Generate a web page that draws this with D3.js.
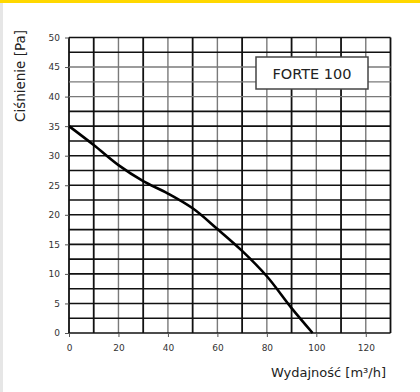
<!DOCTYPE html>
<html><head><meta charset="utf-8">
<script src="https://cdn.jsdelivr.net/npm/d3@7"></script>
<style>body{margin:0;background:#fff}svg{display:block}</style>
</head><body>
<script>
const flow = [0, 10, 20, 30, 40, 50, 60, 70, 80, 90, 98.5];
const pressure = [35, 31.8, 28.4, 25.7, 23.6, 21.1, 17.6, 13.9, 9.6, 4.2, 0];
const xTicks = [0, 20, 40, 60, 80, 100, 120];
const yTicks = [0, 5, 10, 15, 20, 25, 30, 35, 40, 45, 50];
const xGrid = d3.range(0, 131, 10);
const yGrid = d3.range(0, 50.1, 2.5);
const labelText = "FORTE 100";
const xTitle = "Wydajność [m³/h]";
const yTitle = "Ciśnienie [Pa]";

const W = 420, H = 392;
const svg = d3.select("body").append("svg").attr("width", W).attr("height", H);
svg.append("rect").attr("width", W).attr("height", H).attr("fill", "#fff");
svg.append("rect").attr("width", W).attr("height", 3).attr("fill", "#ffd800");
svg.append("rect").attr("y", 3).attr("width", 3).attr("height", H - 3).attr("fill", "#e6e6e6");

const x = d3.scaleLinear().domain([0, 130]).range([69, 390.5]);
const y = d3.scaleLinear().domain([0, 50]).range([333, 37.5]);

const g = svg.append("g");
g.selectAll(".vg").data(xGrid).join("line")
  .attr("x1", d => x(d)).attr("x2", d => x(d)).attr("y1", y(0)).attr("y2", y(50))
  .attr("stroke", d => (d % 20 === 0 && d !== 0) ? "#7a7a7a" : "#111")
  .attr("stroke-width", d => (d % 20 === 0 && d !== 0) ? 1.4 : 1.8);
g.selectAll(".hg").data(yGrid).join("line")
  .attr("x1", x(0)).attr("x2", x(130)).attr("y1", d => y(d)).attr("y2", d => y(d))
  .attr("stroke", d => (d >= 40 && d <= 45) ? "#7a7a7a" : "#111")
  .attr("stroke-width", d => (d >= 40 && d <= 45) ? 1.4 : 1.6);

const fontTick = "DejaVu Sans, sans-serif";
const ax = svg.append("g").attr("transform", `translate(0,${y(0)})`)
  .call(d3.axisBottom(x).tickValues(xTicks).tickSize(4).tickPadding(8));
ax.select(".domain").remove();
ax.selectAll("line").attr("stroke", "#555");
ax.selectAll("text").attr("font-family", fontTick).attr("font-size", 9).attr("fill", "#333");
const ay = svg.append("g").attr("transform", `translate(${x(0)},0)`)
  .call(d3.axisLeft(y).tickValues(yTicks).tickSize(4).tickPadding(5));
ay.select(".domain").remove();
ay.selectAll("line").attr("stroke", "#555");
ay.selectAll("text").attr("font-family", fontTick).attr("font-size", 9).attr("fill", "#333");

const pts = flow.map((f, i) => [f, pressure[i]]);
svg.append("path").datum(pts)
  .attr("d", d3.line().x(d => x(d[0])).y(d => y(d[1])).curve(d3.curveCatmullRom.alpha(0.5)))
  .attr("fill", "none").attr("stroke", "#000").attr("stroke-width", 2.6);

svg.append("rect").attr("x", 256).attr("y", 57).attr("width", 112).attr("height", 32)
  .attr("fill", "#fff").attr("stroke", "#444").attr("stroke-width", 1.5);
svg.append("text").attr("x", 312).attr("y", 79).attr("text-anchor", "middle")
  .attr("font-family", "DejaVu Sans, sans-serif").attr("font-size", 14.5).attr("fill", "#222")
  .text(labelText);

svg.append("text").attr("x", 386).attr("y", 377).attr("text-anchor", "end")
  .attr("font-family", "DejaVu Sans, sans-serif").attr("font-size", 13).attr("fill", "#222")
  .text(xTitle);
svg.append("text").attr("transform", "translate(25,76) rotate(-90)").attr("text-anchor", "middle")
  .attr("font-family", "DejaVu Sans, sans-serif").attr("font-size", 13.5).attr("fill", "#222")
  .text(yTitle);
</script>
</body></html>
